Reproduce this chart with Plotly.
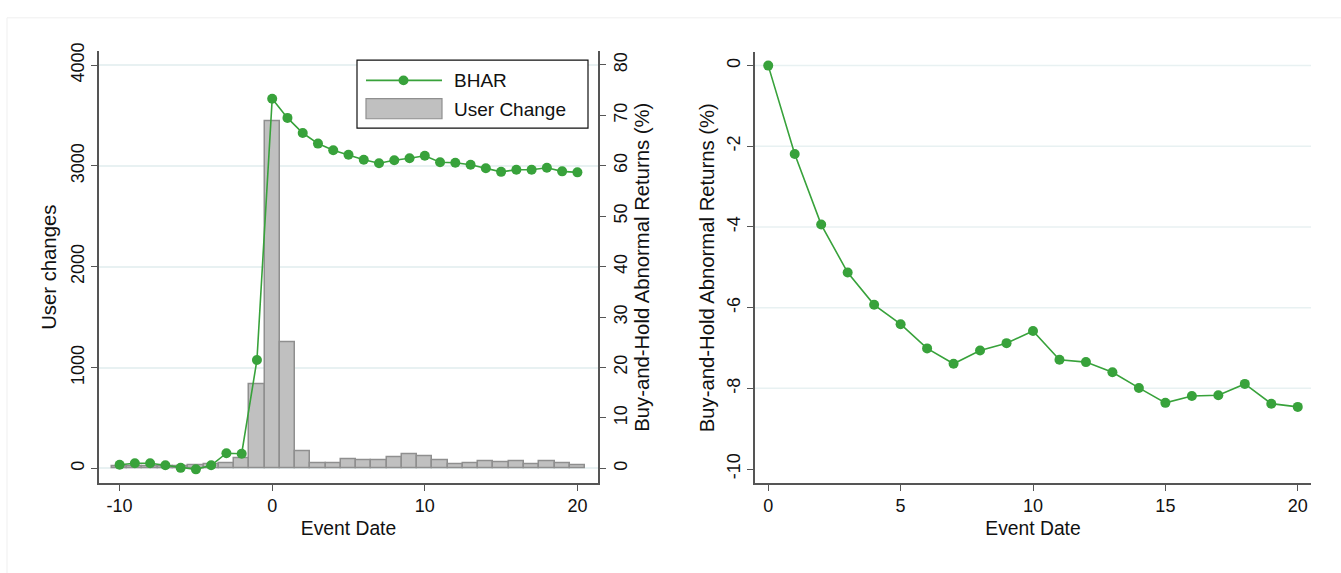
import plotly.graph_objects as go

# ---- data ----
event_left = list(range(-10, 21))
user_change = [25, 20, 25, 20, 25, 30, 40, 50, 100, 835, 3440, 1252, 166, 55, 49, 91, 78, 78,
               107, 137, 120, 81, 45, 55, 71, 65, 71, 45, 68, 49, 35]
bhar_left = [0.7, 1.0, 1.0, 0.6, 0.1, -0.2, 0.6, 3.0, 2.9, 21.5, 73.3, 69.5, 66.5, 64.4, 63.1,
             62.2, 61.2, 60.5, 61.1, 61.5, 62.0, 60.7, 60.6, 60.2, 59.5, 58.8, 59.2, 59.2,
             59.6, 58.9, 58.7]

event_right = list(range(0, 21))
bhar_right = [0.0, -2.19, -3.94, -5.13, -5.93, -6.41, -7.01, -7.39, -7.06, -6.88, -6.58,
              -7.29, -7.35, -7.60, -7.99, -8.36, -8.19, -8.17, -7.89, -8.38, -8.46]

left_x_ticks = [-10, 0, 10, 20]
users_ticks = [0, 1000, 2000, 3000, 4000]
bhar_ticks = [0, 10, 20, 30, 40, 50, 60, 70, 80]
right_x_ticks = [0, 5, 10, 15, 20]
right_y_ticks = [0, -2, -4, -6, -8, -10]
right_grid = [0, -2, -4, -6, -8]
legend_labels = ["BHAR", "User Change"]

GREEN = "#38a23b"
BAR_FILL = "#c0c0c0"
BAR_LINE = "#8f8f8f"
AXIS = "#555555"
GRID = "#e8f1f2"
FONT = "Liberation Sans, Arial, Helvetica, sans-serif"

fig = go.Figure()

fig.add_trace(go.Bar(
    x=event_left, y=user_change, width=1.0, name=legend_labels[1],
    marker=dict(color=BAR_FILL, line=dict(color=BAR_LINE, width=1.5)),
    xaxis="x", yaxis="y", showlegend=False,
))
fig.add_trace(go.Scatter(
    x=event_left, y=bhar_left, mode="lines+markers", name=legend_labels[0],
    line=dict(color=GREEN, width=1.6), marker=dict(color=GREEN, size=10),
    xaxis="x", yaxis="y2", showlegend=False,
))
fig.add_trace(go.Scatter(
    x=event_right, y=bhar_right, mode="lines+markers", name="BHAR",
    line=dict(color=GREEN, width=1.6), marker=dict(color=GREEN, size=10),
    xaxis="x2", yaxis="y3", showlegend=False,
))

W, H = 1341, 573
def px(x):
    return x / W
def py(y):
    return 1 - y / H

tick_font = dict(family=FONT, size=18, color="#111")
axis_common = dict(
    showline=True, linecolor=AXIS, linewidth=1.5,
    ticks="outside", ticklen=6, tickwidth=1.3, tickcolor=AXIS,
    tickfont=tick_font, zeroline=False,
)
htitle = dict(family=FONT, size=19.3, color="#111")
vtitle = dict(family=FONT, size=20.3, color="#111")

def labels(vals):
    return [str(v) for v in vals]

fig.update_layout(
    width=W, height=H,
    margin=dict(l=0, r=0, t=0, b=0),
    paper_bgcolor="white", plot_bgcolor="white",
    font=dict(family=FONT, color="#111"),
    bargap=0, showlegend=False,
    xaxis=dict(domain=[px(99), px(598)], range=[-11.35, 21.35], anchor="y",
               tickvals=left_x_ticks, ticktext=labels(left_x_ticks), showgrid=False,
               title=dict(text="Event Date", font=htitle, standoff=6),
               **axis_common),
    yaxis=dict(domain=[py(481.7), py(43)], range=[-146, 4137], anchor="x",
               tickvals=users_ticks, ticktext=labels(users_ticks), tickangle=-90,
               showgrid=True, gridcolor=GRID, gridwidth=1.5,
               title=dict(text="User changes", font=vtitle, standoff=6),
               **axis_common),
    yaxis2=dict(range=[-2.93, 82.7], overlaying="y", side="right", anchor="x",
                tickvals=bhar_ticks, ticktext=labels(bhar_ticks), tickangle=-90, showgrid=False,
                title=dict(text="Buy-and-Hold Abnormal Returns (%)", font=vtitle, standoff=4),
                **axis_common),
    xaxis2=dict(domain=[px(755), px(1311)], range=[-0.5, 20.5], anchor="y3",
                tickvals=right_x_ticks, ticktext=labels(right_x_ticks), showgrid=False,
                title=dict(text="Event Date", font=htitle, standoff=6),
                **axis_common),
    yaxis3=dict(domain=[py(481.7), py(44)], range=[-10.35, 0.33], anchor="x2",
                tickvals=right_y_ticks, ticktext=labels(right_y_ticks), tickangle=-90,
                showgrid=False,
                title=dict(text="Buy-and-Hold Abnormal Returns (%)", font=vtitle, standoff=4),
                **axis_common),
)

for g in right_grid:
    fig.add_shape(type="line", xref="x2 domain", yref="y3", x0=0, x1=1, y0=g, y1=g,
                  line=dict(color=GRID, width=1.5), layer="below")

# ---- legend box (drawn like the original Stata legend) ----
fig.add_shape(type="rect", xref="paper", yref="paper", x0=px(357), x1=px(588),
              y0=py(121), y1=py(52), line=dict(color="#111", width=1.2), fillcolor="white")
fig.add_shape(type="line", xref="paper", yref="paper", x0=px(366), x1=px(442),
              y0=py(72.5), y1=py(72.5), line=dict(color=GREEN, width=1.6))
fig.add_shape(type="circle", xref="paper", yref="paper", x0=px(398.5), x1=px(408.5),
              y0=py(77.5), y1=py(67.5), line=dict(color=GREEN, width=0), fillcolor=GREEN)
fig.add_shape(type="rect", xref="paper", yref="paper", x0=px(366), x1=px(442),
              y0=py(111.5), y1=py(91), line=dict(color=BAR_LINE, width=1.2), fillcolor=BAR_FILL)
for lab, yc in zip(legend_labels, [72.5, 102]):
    fig.add_annotation(xref="paper", yref="paper", x=px(452), y=py(yc), text=lab,
                       showarrow=False, xanchor="left", yanchor="middle",
                       font=dict(family=FONT, size=19, color="#111"))

# faint outer frame
fig.add_shape(type="rect", xref="paper", yref="paper", x0=px(7), x1=1.01, y0=-0.01, y1=py(9),
              line=dict(color="#efefef", width=1), layer="below")

fig.write_html("out.html")
